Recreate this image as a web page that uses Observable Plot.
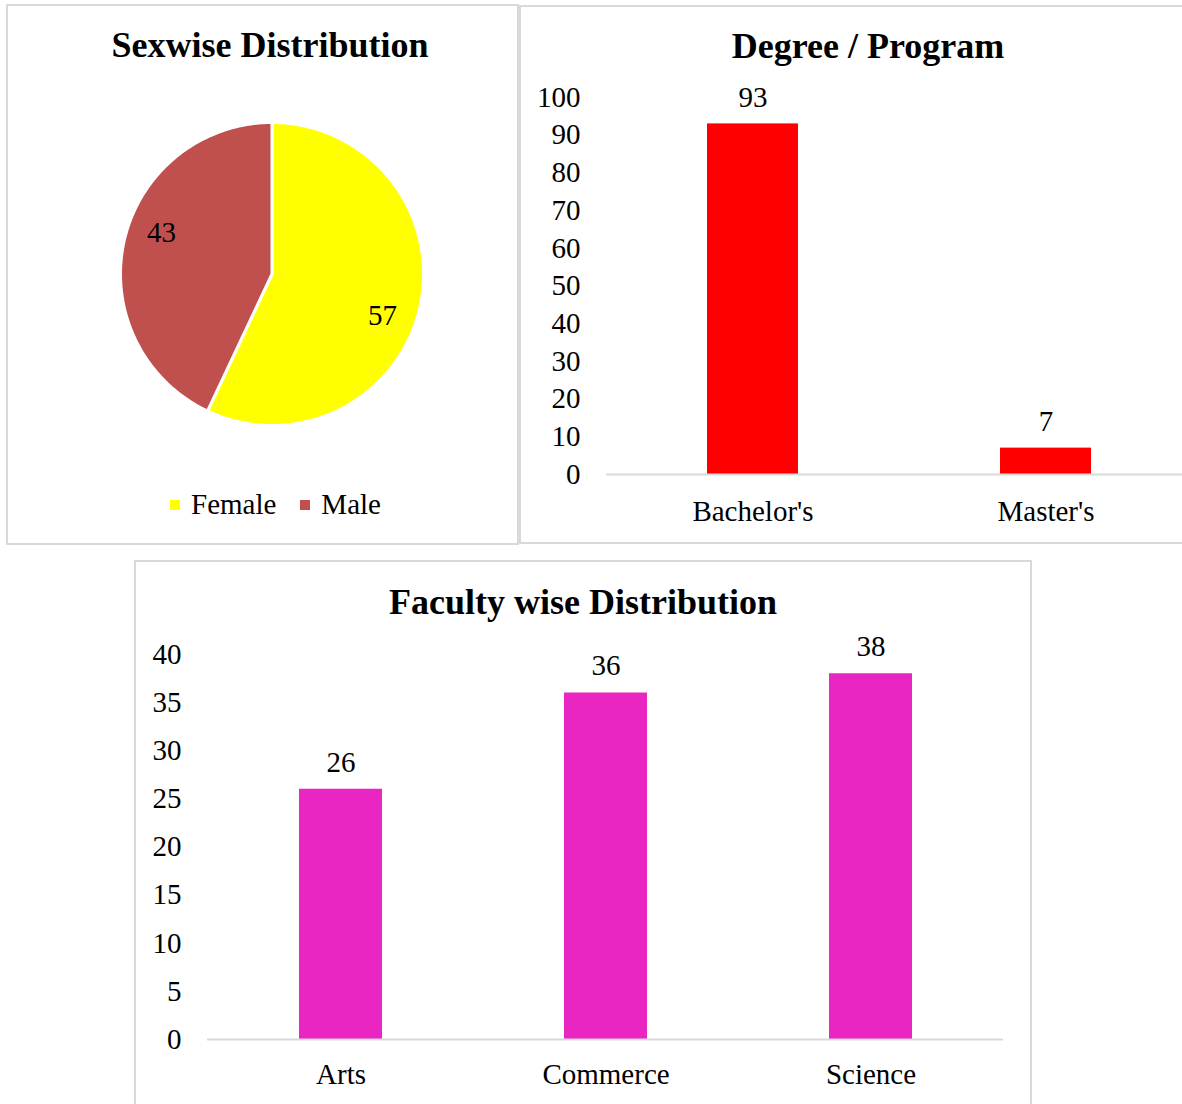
<!DOCTYPE html>
<html><head><meta charset="utf-8">
<script src="https://cdn.jsdelivr.net/npm/d3@7"></script>
<script src="https://cdn.jsdelivr.net/npm/@observablehq/plot@0.6"></script>
<style>
body{margin:0;background:#fff;}
#page{position:relative;width:1182px;height:1104px;overflow:hidden;background:#fff;font-family:"Liberation Serif","Times New Roman",serif;}
.panel{position:absolute;box-sizing:border-box;border:2px solid #d9d9d9;background:#fff;}
.title{position:absolute;width:600px;text-align:center;font-weight:bold;font-size:36px;line-height:40px;color:#000;white-space:nowrap;}
.chart{position:absolute;}
#leg svg{margin-right:11px !important;}
#leg [class$="-swatch"]{margin-right:24px !important;}
</style></head><body><div id="page"></div>
<script>
// ---- data ----
const sexLabels = ["Female", "Male"];
const sexValues = [57, 43];
const sexColors = ["#FFFF00", "#C0504D"];

const degreeLabels = ["Bachelor's", "Master's"];
const degreeValues = [93, 7];
const degreeTicks = [0, 10, 20, 30, 40, 50, 60, 70, 80, 90, 100];

const facultyLabels = ["Arts", "Commerce", "Science"];
const facultyValues = [26, 36, 38];
const facultyTicks = [0, 5, 10, 15, 20, 25, 30, 35, 40];

const titles = ["Sexwise Distribution", "Degree / Program", "Faculty wise Distribution"];

// ---- helpers ----
const page = document.getElementById("page");
function place(el, left, top, cls, id) {
  const d = document.createElement("div");
  d.className = cls || "chart";
  if (id) d.id = id;
  d.style.left = left + "px";
  d.style.top = top + "px";
  if (el) d.appendChild(el);
  page.appendChild(d);
  return d;
}
function panel(left, top, w, h) {
  const d = place(null, left, top, "panel");
  d.style.width = w + "px"; d.style.height = h + "px";
}
function title(text, cx, cy) {
  const d = place(null, cx - 300, cy - 20, "title");
  d.textContent = text;
}
const baseStyle = {background: "transparent", fontFamily: "'Liberation Serif', 'Times New Roman', serif",
  fontSize: "29px", color: "#000", overflow: "visible", maxWidth: "none"};

// ---- panels ----
panel(6, 4, 513, 541);
panel(519, 5, 720, 539);
panel(134, 560, 898, 580);

// ---- pie ----
const sexData = sexLabels.map((label, i) => ({label, value: sexValues[i]}));
const arcs = d3.pie().sort(null).value(d => d.value)(sexData);
const slicePts = arcs.flatMap(s => {
  const n = Math.max(2, Math.ceil((s.endAngle - s.startAngle) / (Math.PI / 180)));
  const pts = [{slice: s.data.label, x: 0, y: 0}];
  for (let i = 0; i <= n; i++) {
    const a = s.startAngle + (s.endAngle - s.startAngle) * i / n;
    pts.push({slice: s.data.label, x: Math.sin(a), y: Math.cos(a)});
  }
  return pts;
});
const labelShift = 8 * Math.PI / 180;
const pieLabels = arcs.map(s => {
  const a = (s.startAngle + s.endAngle) / 2 + labelShift;
  return {text: String(s.data.value), x: 0.78 * Math.sin(a), y: 0.78 * Math.cos(a)};
});
const pieChart = Plot.plot({
  width: 511, height: 540,
  marginLeft: 113, marginRight: 95, marginTop: 118, marginBottom: 119,
  style: baseStyle,
  x: {domain: [-1, 1], axis: null},
  y: {domain: [-1, 1], axis: null},
  color: {domain: sexLabels, range: sexColors},
  marks: [
    Plot.line(slicePts, {x: "x", y: "y", z: "slice", fill: "slice", stroke: "white", strokeWidth: 3, curve: "linear-closed"}),
    Plot.text(pieLabels, {x: "x", y: "y", text: "text", fontSize: 29, fill: "#000"})
  ]
});
place(pieChart, 7, 4);
title(titles[0], 270, 45);

const legend = Plot.legend({
  color: {domain: sexLabels, range: sexColors},
  legend: "swatches", swatchSize: 10,
  style: {fontSize: "29px", fontFamily: "'Liberation Serif', 'Times New Roman', serif", color: "#000", background: "transparent"}
});
place(legend, 170, 488, "chart", "leg");

// ---- degree bar chart ----
const degreeData = degreeLabels.map((label, i) => ({label, value: degreeValues[i]}));
const degreeChart = Plot.plot({
  width: 673, height: 538,
  marginLeft: 87, marginRight: 0, marginTop: 92, marginBottom: 69,
  style: baseStyle,
  x: {domain: degreeLabels, paddingInner: 0.689, paddingOuter: 0.3445, label: null},
  y: {domain: [0, 100], label: null},
  marks: [
    Plot.barY(degreeData, {x: "label", y: "value", fill: "#FF0000"}),
    Plot.ruleY([0], {stroke: "#d9d9d9", strokeWidth: 2}),
    Plot.axisY({ticks: degreeTicks, tickSize: 0, tickPadding: 26, fontSize: 29, label: null}),
    Plot.axisX({tickSize: 0, tickPadding: 26, fontSize: 29, label: null}),
    Plot.text(degreeData, {x: "label", y: "value", text: d => String(d.value), dy: -26, fontSize: 29, fill: "#000"})
  ]
});
place(degreeChart, 519, 5);
title(titles[1], 868, 46);

// ---- faculty bar chart ----
const facultyData = facultyLabels.map((label, i) => ({label, value: facultyValues[i]}));
const facultyChart = Plot.plot({
  width: 898, height: 543,
  marginLeft: 73, marginRight: 29, marginTop: 93, marginBottom: 65,
  style: baseStyle,
  x: {domain: facultyLabels, paddingInner: 0.687, paddingOuter: 0.3435, label: null},
  y: {domain: [0, 40], label: null},
  marks: [
    Plot.barY(facultyData, {x: "label", y: "value", fill: "#E926C2"}),
    Plot.ruleY([0], {stroke: "#d9d9d9", strokeWidth: 2}),
    Plot.axisY({ticks: facultyTicks, tickSize: 0, tickPadding: 26, fontSize: 29, label: null}),
    Plot.axisX({tickSize: 0, tickPadding: 24, fontSize: 29, label: null}),
    Plot.text(facultyData, {x: "label", y: "value", text: d => String(d.value), dy: -27, fontSize: 29, fill: "#000"})
  ]
});
place(facultyChart, 134, 561);
title(titles[2], 583, 602);
</script></body></html>
